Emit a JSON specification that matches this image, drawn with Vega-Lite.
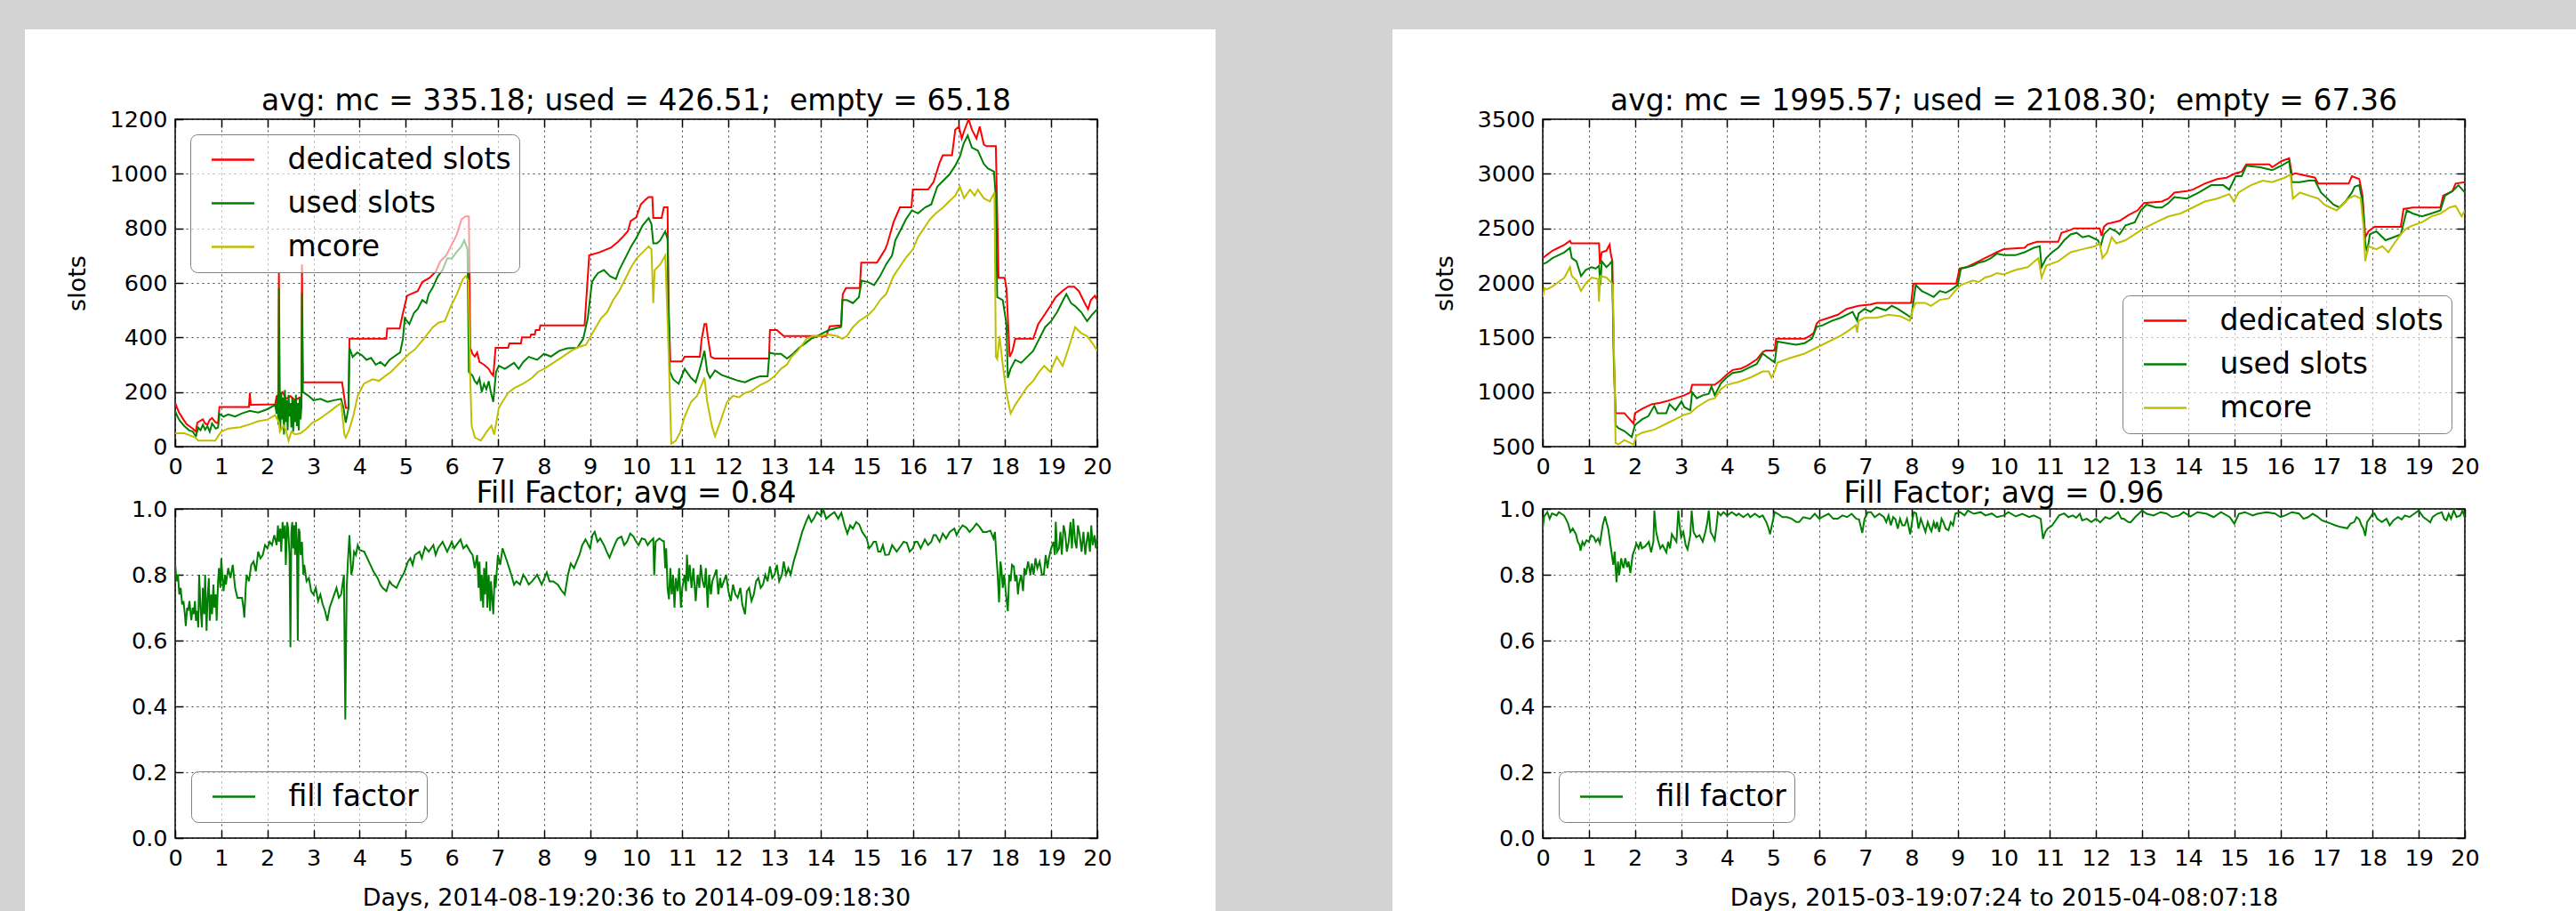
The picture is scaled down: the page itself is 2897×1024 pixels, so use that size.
{
"$schema": "https://vega.github.io/schema/vega-lite/v6.json",
"padding": 0,
"autosize": {"type": "pad"},
"background": "white",
"config": {
 "font": "DejaVu Sans",
 "view": {"stroke": null},
 "axis": {"domain": false, "grid": true, "gridColor": "black", "gridDash": [2, 4], "gridWidth": 1, "gridOpacity": 0.75, "tickColor": "black", "tickSize": -9, "tickWidth": 1.5, "labelFont": "DejaVu Sans", "labelFontSize": 25.5, "labelColor": "black", "titleFont": "DejaVu Sans", "titleFontSize": 27, "titleFontWeight": "normal", "titleColor": "black", "labelOverlap": false},
 "axisX": {"labelPadding": 19, "labelFlush": false, "titlePadding": 19},
 "axisY": {"labelPadding": 18, "titlePadding": 22},
 "title": {"font": "DejaVu Sans", "fontSize": 33, "fontWeight": "normal", "color": "black", "offset": -9, "anchor": "middle"},
 "legend": {"title": null, "symbolType": "stroke", "symbolSize": 2304, "symbolStrokeWidth": 2.5, "labelFontSize": 33, "labelFont": "DejaVu Sans", "labelColor": "black", "clipHeight": 40, "rowPadding": 9, "padding": 8.5, "symbolOffset": 14, "labelOffset": 36, "fillColor": "rgba(255,255,255,0.6)", "strokeColor": "#808080", "cornerRadius": 8, "labelLimit": 0}
},
"datasets": {
 "lr": [{"d":0,"v":160},{"d":0.08,"v":126},{"d":0.18,"v":99},{"d":0.25,"v":82},{"d":0.38,"v":66},{"d":0.45,"v":55},{"d":0.48,"v":88},{"d":0.55,"v":95},{"d":0.6,"v":100},{"d":0.65,"v":85},{"d":0.7,"v":80},{"d":0.75,"v":98},{"d":0.8,"v":105},{"d":0.87,"v":90},{"d":0.93,"v":85},{"d":0.96,"v":145},{"d":1.6,"v":145},{"d":1.62,"v":197},{"d":1.64,"v":153},{"d":2.17,"v":155},{"d":2.2,"v":185},{"d":2.24,"v":190},{"d":2.25,"v":636},{"d":2.27,"v":190},{"d":2.33,"v":200},{"d":2.4,"v":175},{"d":2.5,"v":185},{"d":2.6,"v":170},{"d":2.7,"v":180},{"d":2.74,"v":180},{"d":2.75,"v":668},{"d":2.77,"v":236},{"d":3.62,"v":236},{"d":3.66,"v":190},{"d":3.7,"v":142},{"d":3.76,"v":142},{"d":3.78,"v":395},{"d":4.58,"v":395},{"d":4.6,"v":433},{"d":4.87,"v":433},{"d":4.93,"v":482},{"d":5.03,"v":553},{"d":5.26,"v":570},{"d":5.36,"v":603},{"d":5.52,"v":619},{"d":5.65,"v":641},{"d":5.75,"v":679},{"d":5.88,"v":701},{"d":5.98,"v":734},{"d":6.11,"v":778},{"d":6.21,"v":833},{"d":6.3,"v":844},{"d":6.37,"v":844},{"d":6.4,"v":362},{"d":6.45,"v":340},{"d":6.5,"v":330},{"d":6.55,"v":345},{"d":6.6,"v":310},{"d":6.7,"v":300},{"d":6.8,"v":285},{"d":6.85,"v":270},{"d":6.9,"v":260},{"d":6.95,"v":362},{"d":7.22,"v":362},{"d":7.25,"v":378},{"d":7.5,"v":378},{"d":7.52,"v":400},{"d":7.7,"v":400},{"d":7.72,"v":411},{"d":7.8,"v":411},{"d":7.82,"v":427},{"d":7.9,"v":427},{"d":7.92,"v":444},{"d":8.88,"v":444},{"d":8.98,"v":701},{"d":9.2,"v":712},{"d":9.45,"v":729},{"d":9.6,"v":750},{"d":9.7,"v":767},{"d":9.82,"v":790},{"d":9.88,"v":827},{"d":10.0,"v":840},{"d":10.1,"v":888},{"d":10.2,"v":905},{"d":10.27,"v":915},{"d":10.35,"v":915},{"d":10.37,"v":838},{"d":10.55,"v":838},{"d":10.6,"v":877},{"d":10.68,"v":877},{"d":10.7,"v":526},{"d":10.74,"v":312},{"d":10.99,"v":312},{"d":11.05,"v":329},{"d":11.38,"v":329},{"d":11.42,"v":395},{"d":11.48,"v":449},{"d":11.52,"v":449},{"d":11.55,"v":405},{"d":11.62,"v":329},{"d":11.7,"v":323},{"d":12.88,"v":323},{"d":12.9,"v":427},{"d":13.05,"v":427},{"d":13.2,"v":405},{"d":14.12,"v":405},{"d":14.2,"v":441},{"d":14.45,"v":444},{"d":14.48,"v":559},{"d":14.55,"v":581},{"d":14.85,"v":581},{"d":14.88,"v":674},{"d":15.22,"v":674},{"d":15.28,"v":690},{"d":15.4,"v":723},{"d":15.45,"v":745},{"d":15.58,"v":822},{"d":15.72,"v":877},{"d":15.97,"v":877},{"d":16.0,"v":942},{"d":16.33,"v":942},{"d":16.45,"v":970},{"d":16.58,"v":1041},{"d":16.65,"v":1068},{"d":16.85,"v":1068},{"d":16.92,"v":1162},{"d":17.0,"v":1173},{"d":17.06,"v":1129},{"d":17.12,"v":1160},{"d":17.21,"v":1200},{"d":17.28,"v":1162},{"d":17.38,"v":1129},{"d":17.45,"v":1173},{"d":17.54,"v":1107},{"d":17.6,"v":1101},{"d":17.8,"v":1101},{"d":17.83,"v":850},{"d":17.86,"v":619},{"d":17.99,"v":619},{"d":18.03,"v":581},{"d":18.1,"v":329},{"d":18.16,"v":350},{"d":18.22,"v":395},{"d":18.61,"v":395},{"d":18.72,"v":449},{"d":18.85,"v":482},{"d":18.98,"v":515},{"d":19.1,"v":548},{"d":19.24,"v":570},{"d":19.37,"v":586},{"d":19.5,"v":586},{"d":19.6,"v":570},{"d":19.73,"v":526},{"d":19.8,"v":504},{"d":19.86,"v":537},{"d":19.95,"v":553},{"d":20,"v":537}],
 "lg": [{"d":0,"v":131},{"d":0.05,"v":110},{"d":0.1,"v":95},{"d":0.2,"v":75},{"d":0.3,"v":60},{"d":0.38,"v":55},{"d":0.45,"v":38},{"d":0.5,"v":70},{"d":0.55,"v":60},{"d":0.6,"v":80},{"d":0.65,"v":62},{"d":0.7,"v":75},{"d":0.75,"v":55},{"d":0.8,"v":85},{"d":0.88,"v":66},{"d":0.93,"v":70},{"d":0.96,"v":120},{"d":1.05,"v":110},{"d":1.15,"v":118},{"d":1.3,"v":110},{"d":1.45,"v":122},{"d":1.62,"v":131},{"d":1.8,"v":125},{"d":2.0,"v":137},{"d":2.17,"v":153},{"d":2.2,"v":120},{"d":2.22,"v":190},{"d":2.24,"v":80},{"d":2.25,"v":581},{"d":2.26,"v":150},{"d":2.28,"v":60},{"d":2.3,"v":200},{"d":2.32,"v":100},{"d":2.34,"v":180},{"d":2.36,"v":44},{"d":2.38,"v":208},{"d":2.4,"v":90},{"d":2.42,"v":170},{"d":2.44,"v":60},{"d":2.46,"v":190},{"d":2.48,"v":110},{"d":2.5,"v":160},{"d":2.52,"v":70},{"d":2.54,"v":180},{"d":2.56,"v":55},{"d":2.58,"v":170},{"d":2.6,"v":90},{"d":2.62,"v":190},{"d":2.64,"v":75},{"d":2.66,"v":160},{"d":2.68,"v":60},{"d":2.7,"v":180},{"d":2.72,"v":100},{"d":2.74,"v":150},{"d":2.75,"v":564},{"d":2.77,"v":200},{"d":2.8,"v":197},{"d":2.9,"v":185},{"d":3.0,"v":170},{"d":3.15,"v":175},{"d":3.3,"v":164},{"d":3.45,"v":170},{"d":3.6,"v":175},{"d":3.65,"v":142},{"d":3.7,"v":88},{"d":3.76,"v":142},{"d":3.78,"v":362},{"d":3.85,"v":329},{"d":3.95,"v":345},{"d":4.05,"v":335},{"d":4.15,"v":318},{"d":4.25,"v":325},{"d":4.35,"v":300},{"d":4.45,"v":310},{"d":4.55,"v":296},{"d":4.65,"v":318},{"d":4.75,"v":330},{"d":4.88,"v":345},{"d":4.94,"v":395},{"d":4.98,"v":471},{"d":5.08,"v":449},{"d":5.18,"v":490},{"d":5.26,"v":504},{"d":5.36,"v":537},{"d":5.45,"v":526},{"d":5.5,"v":559},{"d":5.58,"v":581},{"d":5.7,"v":625},{"d":5.8,"v":647},{"d":5.9,"v":690},{"d":6.0,"v":690},{"d":6.1,"v":712},{"d":6.21,"v":734},{"d":6.27,"v":756},{"d":6.34,"v":723},{"d":6.37,"v":274},{"d":6.45,"v":260},{"d":6.5,"v":240},{"d":6.55,"v":230},{"d":6.6,"v":250},{"d":6.65,"v":200},{"d":6.7,"v":230},{"d":6.75,"v":210},{"d":6.8,"v":240},{"d":6.85,"v":197},{"d":6.9,"v":164},{"d":6.93,"v":220},{"d":6.96,"v":274},{"d":7.02,"v":296},{"d":7.15,"v":285},{"d":7.35,"v":307},{"d":7.45,"v":285},{"d":7.55,"v":310},{"d":7.67,"v":329},{"d":7.85,"v":318},{"d":8.0,"v":340},{"d":8.15,"v":330},{"d":8.33,"v":351},{"d":8.5,"v":360},{"d":8.72,"v":362},{"d":8.85,"v":395},{"d":8.95,"v":471},{"d":9.04,"v":603},{"d":9.1,"v":620},{"d":9.17,"v":636},{"d":9.3,"v":647},{"d":9.43,"v":625},{"d":9.56,"v":614},{"d":9.63,"v":647},{"d":9.76,"v":690},{"d":9.89,"v":734},{"d":10.01,"v":767},{"d":10.14,"v":811},{"d":10.27,"v":838},{"d":10.33,"v":816},{"d":10.37,"v":745},{"d":10.45,"v":745},{"d":10.52,"v":756},{"d":10.63,"v":789},{"d":10.68,"v":760},{"d":10.7,"v":515},{"d":10.73,"v":274},{"d":10.8,"v":247},{"d":10.92,"v":230},{"d":11.05,"v":285},{"d":11.19,"v":252},{"d":11.29,"v":236},{"d":11.38,"v":285},{"d":11.48,"v":351},{"d":11.54,"v":274},{"d":11.6,"v":252},{"d":11.71,"v":279},{"d":11.85,"v":263},{"d":12.03,"v":252},{"d":12.22,"v":241},{"d":12.36,"v":236},{"d":12.5,"v":247},{"d":12.68,"v":258},{"d":12.85,"v":258},{"d":12.89,"v":345},{"d":13.0,"v":340},{"d":13.14,"v":340},{"d":13.27,"v":323},{"d":13.4,"v":340},{"d":13.53,"v":362},{"d":13.66,"v":378},{"d":13.79,"v":395},{"d":13.92,"v":405},{"d":14.05,"v":416},{"d":14.18,"v":427},{"d":14.31,"v":433},{"d":14.44,"v":438},{"d":14.47,"v":537},{"d":14.57,"v":537},{"d":14.7,"v":526},{"d":14.83,"v":548},{"d":14.89,"v":608},{"d":15.03,"v":603},{"d":15.16,"v":592},{"d":15.29,"v":625},{"d":15.42,"v":668},{"d":15.55,"v":701},{"d":15.62,"v":756},{"d":15.72,"v":789},{"d":15.85,"v":833},{"d":15.98,"v":866},{"d":16.11,"v":855},{"d":16.27,"v":877},{"d":16.4,"v":888},{"d":16.53,"v":953},{"d":16.66,"v":975},{"d":16.79,"v":997},{"d":16.92,"v":1030},{"d":17.02,"v":1063},{"d":17.1,"v":1110},{"d":17.19,"v":1140},{"d":17.28,"v":1096},{"d":17.41,"v":1085},{"d":17.54,"v":1036},{"d":17.63,"v":1019},{"d":17.76,"v":1008},{"d":17.8,"v":910},{"d":17.83,"v":548},{"d":17.95,"v":537},{"d":18.03,"v":449},{"d":18.06,"v":252},{"d":18.12,"v":285},{"d":18.22,"v":318},{"d":18.35,"v":307},{"d":18.48,"v":329},{"d":18.61,"v":351},{"d":18.74,"v":395},{"d":18.87,"v":438},{"d":19.0,"v":460},{"d":19.13,"v":493},{"d":19.26,"v":537},{"d":19.33,"v":559},{"d":19.43,"v":526},{"d":19.52,"v":515},{"d":19.65,"v":493},{"d":19.78,"v":460},{"d":19.88,"v":482},{"d":20,"v":504}],
 "ly": [{"d":0,"v":49},{"d":0.2,"v":49},{"d":0.44,"v":33},{"d":0.5,"v":22},{"d":0.87,"v":22},{"d":0.93,"v":38},{"d":1.0,"v":55},{"d":1.15,"v":66},{"d":1.41,"v":71},{"d":1.62,"v":82},{"d":1.8,"v":93},{"d":2.0,"v":99},{"d":2.17,"v":115},{"d":2.25,"v":90},{"d":2.27,"v":55},{"d":2.35,"v":77},{"d":2.4,"v":60},{"d":2.46,"v":22},{"d":2.52,"v":55},{"d":2.6,"v":45},{"d":2.72,"v":49},{"d":2.85,"v":66},{"d":2.98,"v":88},{"d":3.11,"v":99},{"d":3.24,"v":115},{"d":3.37,"v":131},{"d":3.5,"v":148},{"d":3.6,"v":159},{"d":3.67,"v":44},{"d":3.7,"v":33},{"d":3.77,"v":60},{"d":3.86,"v":110},{"d":3.96,"v":186},{"d":4.09,"v":230},{"d":4.28,"v":247},{"d":4.42,"v":241},{"d":4.55,"v":258},{"d":4.68,"v":274},{"d":4.81,"v":296},{"d":4.94,"v":318},{"d":5.07,"v":340},{"d":5.2,"v":356},{"d":5.39,"v":395},{"d":5.59,"v":438},{"d":5.72,"v":455},{"d":5.85,"v":460},{"d":5.98,"v":515},{"d":6.11,"v":559},{"d":6.24,"v":614},{"d":6.3,"v":625},{"d":6.36,"v":608},{"d":6.4,"v":252},{"d":6.43,"v":77},{"d":6.5,"v":33},{"d":6.63,"v":22},{"d":6.76,"v":55},{"d":6.86,"v":77},{"d":6.92,"v":44},{"d":7.02,"v":142},{"d":7.22,"v":197},{"d":7.35,"v":214},{"d":7.54,"v":230},{"d":7.74,"v":252},{"d":7.87,"v":274},{"d":8.0,"v":285},{"d":8.2,"v":307},{"d":8.4,"v":329},{"d":8.59,"v":351},{"d":8.78,"v":367},{"d":8.91,"v":373},{"d":8.98,"v":395},{"d":9.11,"v":433},{"d":9.24,"v":471},{"d":9.37,"v":493},{"d":9.5,"v":537},{"d":9.63,"v":570},{"d":9.76,"v":614},{"d":9.89,"v":658},{"d":10.01,"v":690},{"d":10.14,"v":712},{"d":10.27,"v":734},{"d":10.33,"v":723},{"d":10.37,"v":526},{"d":10.4,"v":647},{"d":10.52,"v":668},{"d":10.63,"v":701},{"d":10.7,"v":362},{"d":10.76,"v":11},{"d":10.86,"v":22},{"d":10.96,"v":55},{"d":11.05,"v":110},{"d":11.19,"v":164},{"d":11.32,"v":186},{"d":11.48,"v":252},{"d":11.54,"v":164},{"d":11.64,"v":77},{"d":11.71,"v":38},{"d":11.84,"v":99},{"d":11.97,"v":164},{"d":12.1,"v":186},{"d":12.23,"v":181},{"d":12.36,"v":197},{"d":12.49,"v":203},{"d":12.68,"v":225},{"d":12.87,"v":241},{"d":13.0,"v":258},{"d":13.14,"v":285},{"d":13.27,"v":301},{"d":13.37,"v":329},{"d":13.5,"v":351},{"d":13.7,"v":395},{"d":13.83,"v":405},{"d":13.96,"v":405},{"d":14.16,"v":411},{"d":14.36,"v":405},{"d":14.47,"v":395},{"d":14.57,"v":405},{"d":14.7,"v":438},{"d":14.83,"v":460},{"d":15.03,"v":482},{"d":15.16,"v":504},{"d":15.29,"v":537},{"d":15.42,"v":559},{"d":15.58,"v":625},{"d":15.71,"v":658},{"d":15.84,"v":690},{"d":16.0,"v":723},{"d":16.11,"v":767},{"d":16.24,"v":800},{"d":16.37,"v":833},{"d":16.5,"v":855},{"d":16.66,"v":877},{"d":16.79,"v":899},{"d":16.92,"v":920},{"d":17.02,"v":953},{"d":17.11,"v":910},{"d":17.24,"v":942},{"d":17.34,"v":920},{"d":17.41,"v":942},{"d":17.54,"v":910},{"d":17.67,"v":899},{"d":17.77,"v":932},{"d":17.8,"v":329},{"d":17.83,"v":320},{"d":17.88,"v":405},{"d":17.95,"v":300},{"d":18.03,"v":197},{"d":18.12,"v":121},{"d":18.22,"v":153},{"d":18.35,"v":186},{"d":18.48,"v":219},{"d":18.61,"v":241},{"d":18.74,"v":274},{"d":18.85,"v":296},{"d":18.98,"v":274},{"d":19.12,"v":329},{"d":19.25,"v":296},{"d":19.38,"v":362},{"d":19.52,"v":438},{"d":19.65,"v":416},{"d":19.78,"v":405},{"d":19.92,"v":373},{"d":20,"v":351}],
 "lf": [{"d":0,"v":0.834},{"d":0.03,"v":0.78},{"d":0.06,"v":0.8},{"d":0.09,"v":0.74},{"d":0.12,"v":0.76},{"d":0.15,"v":0.71},{"d":0.18,"v":0.72},{"d":0.21,"v":0.68},{"d":0.23,"v":0.644},{"d":0.26,"v":0.7},{"d":0.28,"v":0.69},{"d":0.31,"v":0.72},{"d":0.35,"v":0.662},{"d":0.38,"v":0.7},{"d":0.4,"v":0.68},{"d":0.43,"v":0.72},{"d":0.45,"v":0.66},{"d":0.48,"v":0.69},{"d":0.5,"v":0.64},{"d":0.52,"v":0.8},{"d":0.55,"v":0.7},{"d":0.58,"v":0.64},{"d":0.6,"v":0.76},{"d":0.63,"v":0.68},{"d":0.65,"v":0.8},{"d":0.68,"v":0.63},{"d":0.7,"v":0.72},{"d":0.73,"v":0.79},{"d":0.75,"v":0.66},{"d":0.78,"v":0.74},{"d":0.8,"v":0.68},{"d":0.83,"v":0.77},{"d":0.85,"v":0.7},{"d":0.88,"v":0.74},{"d":0.9,"v":0.66},{"d":0.93,"v":0.78},{"d":0.95,"v":0.82},{"d":0.98,"v":0.76},{"d":1.0,"v":0.85},{"d":1.03,"v":0.78},{"d":1.05,"v":0.75},{"d":1.08,"v":0.8},{"d":1.1,"v":0.77},{"d":1.15,"v":0.82},{"d":1.2,"v":0.79},{"d":1.25,"v":0.83},{"d":1.3,"v":0.76},{"d":1.35,"v":0.73},{"d":1.45,"v":0.73},{"d":1.48,"v":0.7},{"d":1.5,"v":0.67},{"d":1.53,"v":0.76},{"d":1.55,"v":0.8},{"d":1.6,"v":0.78},{"d":1.65,"v":0.83},{"d":1.7,"v":0.84},{"d":1.75,"v":0.81},{"d":1.8,"v":0.87},{"d":1.85,"v":0.85},{"d":1.9,"v":0.86},{"d":1.95,"v":0.89},{"d":2.0,"v":0.88},{"d":2.05,"v":0.9},{"d":2.1,"v":0.89},{"d":2.15,"v":0.92},{"d":2.2,"v":0.89},{"d":2.23,"v":0.95},{"d":2.25,"v":0.9},{"d":2.28,"v":0.94},{"d":2.3,"v":0.87},{"d":2.33,"v":0.96},{"d":2.35,"v":0.91},{"d":2.38,"v":0.95},{"d":2.4,"v":0.83},{"d":2.43,"v":0.96},{"d":2.45,"v":0.94},{"d":2.48,"v":0.86},{"d":2.5,"v":0.58},{"d":2.52,"v":0.93},{"d":2.54,"v":0.96},{"d":2.56,"v":0.88},{"d":2.58,"v":0.95},{"d":2.6,"v":0.86},{"d":2.62,"v":0.96},{"d":2.64,"v":0.9},{"d":2.66,"v":0.6},{"d":2.68,"v":0.94},{"d":2.7,"v":0.93},{"d":2.72,"v":0.86},{"d":2.75,"v":0.9},{"d":2.78,"v":0.8},{"d":2.8,"v":0.83},{"d":2.85,"v":0.78},{"d":2.9,"v":0.79},{"d":2.95,"v":0.75},{"d":3.0,"v":0.74},{"d":3.05,"v":0.76},{"d":3.1,"v":0.72},{"d":3.15,"v":0.74},{"d":3.2,"v":0.71},{"d":3.25,"v":0.69},{"d":3.3,"v":0.66},{"d":3.35,"v":0.7},{"d":3.4,"v":0.72},{"d":3.45,"v":0.74},{"d":3.5,"v":0.76},{"d":3.55,"v":0.73},{"d":3.6,"v":0.74},{"d":3.66,"v":0.8},{"d":3.69,"v":0.36},{"d":3.72,"v":0.76},{"d":3.75,"v":0.85},{"d":3.78,"v":0.92},{"d":3.82,"v":0.8},{"d":3.85,"v":0.82},{"d":3.88,"v":0.87},{"d":3.92,"v":0.86},{"d":3.96,"v":0.89},{"d":4.0,"v":0.875},{"d":4.1,"v":0.87},{"d":4.2,"v":0.84},{"d":4.3,"v":0.81},{"d":4.39,"v":0.79},{"d":4.45,"v":0.77},{"d":4.5,"v":0.76},{"d":4.58,"v":0.75},{"d":4.65,"v":0.78},{"d":4.7,"v":0.77},{"d":4.8,"v":0.76},{"d":4.9,"v":0.79},{"d":4.97,"v":0.807},{"d":5.05,"v":0.84},{"d":5.1,"v":0.85},{"d":5.15,"v":0.83},{"d":5.2,"v":0.86},{"d":5.3,"v":0.87},{"d":5.35,"v":0.85},{"d":5.42,"v":0.884},{"d":5.5,"v":0.87},{"d":5.6,"v":0.89},{"d":5.65,"v":0.86},{"d":5.7,"v":0.88},{"d":5.8,"v":0.9},{"d":5.9,"v":0.87},{"d":6.0,"v":0.9},{"d":6.05,"v":0.88},{"d":6.1,"v":0.89},{"d":6.19,"v":0.907},{"d":6.25,"v":0.88},{"d":6.32,"v":0.89},{"d":6.4,"v":0.87},{"d":6.45,"v":0.86},{"d":6.5,"v":0.82},{"d":6.55,"v":0.86},{"d":6.58,"v":0.76},{"d":6.6,"v":0.84},{"d":6.63,"v":0.72},{"d":6.65,"v":0.8},{"d":6.68,"v":0.7},{"d":6.7,"v":0.82},{"d":6.72,"v":0.74},{"d":6.75,"v":0.84},{"d":6.77,"v":0.7},{"d":6.8,"v":0.8},{"d":6.83,"v":0.69},{"d":6.85,"v":0.78},{"d":6.88,"v":0.72},{"d":6.9,"v":0.68},{"d":6.93,"v":0.8},{"d":6.95,"v":0.76},{"d":7.0,"v":0.86},{"d":7.05,"v":0.83},{"d":7.1,"v":0.88},{"d":7.2,"v":0.84},{"d":7.29,"v":0.8},{"d":7.35,"v":0.77},{"d":7.4,"v":0.78},{"d":7.48,"v":0.77},{"d":7.55,"v":0.8},{"d":7.6,"v":0.79},{"d":7.67,"v":0.77},{"d":7.74,"v":0.78},{"d":7.8,"v":0.79},{"d":7.85,"v":0.8},{"d":7.95,"v":0.77},{"d":8.06,"v":0.807},{"d":8.12,"v":0.78},{"d":8.2,"v":0.78},{"d":8.3,"v":0.77},{"d":8.39,"v":0.75},{"d":8.45,"v":0.74},{"d":8.52,"v":0.8},{"d":8.58,"v":0.834},{"d":8.65,"v":0.82},{"d":8.77,"v":0.861},{"d":8.83,"v":0.89},{"d":8.9,"v":0.907},{"d":9.0,"v":0.88},{"d":9.05,"v":0.92},{"d":9.1,"v":0.93},{"d":9.16,"v":0.9},{"d":9.22,"v":0.91},{"d":9.3,"v":0.89},{"d":9.36,"v":0.87},{"d":9.42,"v":0.852},{"d":9.5,"v":0.88},{"d":9.56,"v":0.9},{"d":9.6,"v":0.91},{"d":9.68,"v":0.916},{"d":9.74,"v":0.89},{"d":9.8,"v":0.9},{"d":9.87,"v":0.925},{"d":9.94,"v":0.916},{"d":10.0,"v":0.9},{"d":10.05,"v":0.89},{"d":10.12,"v":0.91},{"d":10.19,"v":0.907},{"d":10.25,"v":0.89},{"d":10.3,"v":0.9},{"d":10.37,"v":0.91},{"d":10.39,"v":0.798},{"d":10.42,"v":0.9},{"d":10.5,"v":0.91},{"d":10.58,"v":0.902},{"d":10.6,"v":0.902},{"d":10.63,"v":0.82},{"d":10.65,"v":0.88},{"d":10.68,"v":0.76},{"d":10.71,"v":0.725},{"d":10.74,"v":0.82},{"d":10.77,"v":0.74},{"d":10.8,"v":0.8},{"d":10.83,"v":0.7},{"d":10.86,"v":0.79},{"d":10.9,"v":0.75},{"d":10.93,"v":0.82},{"d":10.97,"v":0.7},{"d":11.0,"v":0.76},{"d":11.05,"v":0.8},{"d":11.08,"v":0.75},{"d":11.1,"v":0.861},{"d":11.13,"v":0.78},{"d":11.16,"v":0.83},{"d":11.2,"v":0.76},{"d":11.24,"v":0.82},{"d":11.29,"v":0.72},{"d":11.33,"v":0.8},{"d":11.37,"v":0.76},{"d":11.4,"v":0.83},{"d":11.44,"v":0.78},{"d":11.48,"v":0.76},{"d":11.51,"v":0.82},{"d":11.55,"v":0.7},{"d":11.58,"v":0.8},{"d":11.62,"v":0.74},{"d":11.65,"v":0.78},{"d":11.7,"v":0.8},{"d":11.74,"v":0.816},{"d":11.78,"v":0.74},{"d":11.82,"v":0.79},{"d":11.85,"v":0.76},{"d":11.9,"v":0.78},{"d":11.95,"v":0.8},{"d":12.0,"v":0.75},{"d":12.05,"v":0.72},{"d":12.1,"v":0.77},{"d":12.15,"v":0.74},{"d":12.2,"v":0.73},{"d":12.26,"v":0.76},{"d":12.3,"v":0.71},{"d":12.36,"v":0.68},{"d":12.4,"v":0.75},{"d":12.45,"v":0.76},{"d":12.5,"v":0.72},{"d":12.55,"v":0.74},{"d":12.6,"v":0.78},{"d":12.65,"v":0.79},{"d":12.7,"v":0.76},{"d":12.75,"v":0.77},{"d":12.8,"v":0.8},{"d":12.85,"v":0.78},{"d":12.9,"v":0.825},{"d":12.95,"v":0.79},{"d":13.0,"v":0.8},{"d":13.05,"v":0.83},{"d":13.1,"v":0.78},{"d":13.16,"v":0.8},{"d":13.2,"v":0.84},{"d":13.25,"v":0.8},{"d":13.3,"v":0.82},{"d":13.35,"v":0.8},{"d":13.42,"v":0.843},{"d":13.5,"v":0.88},{"d":13.6,"v":0.93},{"d":13.68,"v":0.96},{"d":13.74,"v":0.979},{"d":13.8,"v":0.96},{"d":13.85,"v":0.97},{"d":13.92,"v":0.99},{"d":14.0,"v":0.98},{"d":14.06,"v":0.997},{"d":14.12,"v":0.97},{"d":14.2,"v":0.98},{"d":14.3,"v":0.99},{"d":14.38,"v":0.97},{"d":14.45,"v":0.988},{"d":14.52,"v":0.95},{"d":14.58,"v":0.925},{"d":14.64,"v":0.95},{"d":14.7,"v":0.94},{"d":14.77,"v":0.96},{"d":14.84,"v":0.952},{"d":14.9,"v":0.93},{"d":14.95,"v":0.92},{"d":15.0,"v":0.91},{"d":15.05,"v":0.88},{"d":15.1,"v":0.888},{"d":15.15,"v":0.9},{"d":15.2,"v":0.9},{"d":15.25,"v":0.87},{"d":15.3,"v":0.87},{"d":15.35,"v":0.89},{"d":15.4,"v":0.86},{"d":15.48,"v":0.861},{"d":15.55,"v":0.89},{"d":15.6,"v":0.88},{"d":15.65,"v":0.87},{"d":15.75,"v":0.89},{"d":15.8,"v":0.9},{"d":15.87,"v":0.897},{"d":15.93,"v":0.87},{"d":16.0,"v":0.88},{"d":16.05,"v":0.9},{"d":16.1,"v":0.9},{"d":16.17,"v":0.88},{"d":16.26,"v":0.907},{"d":16.33,"v":0.89},{"d":16.4,"v":0.9},{"d":16.45,"v":0.92},{"d":16.5,"v":0.92},{"d":16.58,"v":0.9},{"d":16.65,"v":0.925},{"d":16.72,"v":0.91},{"d":16.8,"v":0.93},{"d":16.9,"v":0.94},{"d":16.95,"v":0.92},{"d":17.0,"v":0.935},{"d":17.08,"v":0.95},{"d":17.16,"v":0.943},{"d":17.23,"v":0.93},{"d":17.3,"v":0.94},{"d":17.38,"v":0.955},{"d":17.45,"v":0.945},{"d":17.52,"v":0.93},{"d":17.6,"v":0.93},{"d":17.68,"v":0.934},{"d":17.75,"v":0.91},{"d":17.78,"v":0.93},{"d":17.81,"v":0.861},{"d":17.84,"v":0.8},{"d":17.87,"v":0.716},{"d":17.9,"v":0.84},{"d":17.92,"v":0.82},{"d":17.95,"v":0.76},{"d":17.98,"v":0.8},{"d":18.02,"v":0.74},{"d":18.06,"v":0.689},{"d":18.09,"v":0.8},{"d":18.12,"v":0.78},{"d":18.15,"v":0.83},{"d":18.19,"v":0.825},{"d":18.22,"v":0.78},{"d":18.25,"v":0.8},{"d":18.28,"v":0.74},{"d":18.3,"v":0.77},{"d":18.35,"v":0.8},{"d":18.39,"v":0.75},{"d":18.42,"v":0.82},{"d":18.45,"v":0.8},{"d":18.5,"v":0.84},{"d":18.55,"v":0.8},{"d":18.58,"v":0.834},{"d":18.62,"v":0.8},{"d":18.66,"v":0.85},{"d":18.7,"v":0.82},{"d":18.75,"v":0.84},{"d":18.8,"v":0.8},{"d":18.84,"v":0.8},{"d":18.88,"v":0.86},{"d":18.92,"v":0.82},{"d":18.95,"v":0.85},{"d":19.0,"v":0.88},{"d":19.05,"v":0.9},{"d":19.08,"v":0.86},{"d":19.1,"v":0.961},{"d":19.13,"v":0.87},{"d":19.17,"v":0.88},{"d":19.2,"v":0.93},{"d":19.23,"v":0.861},{"d":19.27,"v":0.95},{"d":19.3,"v":0.93},{"d":19.34,"v":0.87},{"d":19.38,"v":0.9},{"d":19.42,"v":0.96},{"d":19.45,"v":0.88},{"d":19.48,"v":0.97},{"d":19.52,"v":0.9},{"d":19.55,"v":0.88},{"d":19.58,"v":0.95},{"d":19.62,"v":0.92},{"d":19.66,"v":0.87},{"d":19.7,"v":0.93},{"d":19.74,"v":0.861},{"d":19.77,"v":0.9},{"d":19.8,"v":0.93},{"d":19.84,"v":0.87},{"d":19.87,"v":0.95},{"d":19.9,"v":0.89},{"d":19.94,"v":0.92},{"d":19.97,"v":0.88},{"d":20,"v":0.916}],
 "rr": [{"d":0,"v":2227},{"d":0.08,"v":2254},{"d":0.21,"v":2295},{"d":0.34,"v":2322},{"d":0.47,"v":2350},{"d":0.59,"v":2385},{"d":0.62,"v":2363},{"d":1.22,"v":2363},{"d":1.24,"v":2172},{"d":1.28,"v":2281},{"d":1.38,"v":2295},{"d":1.45,"v":2350},{"d":1.48,"v":2254},{"d":1.51,"v":2199},{"d":1.54,"v":1298},{"d":1.58,"v":806},{"d":1.77,"v":806},{"d":1.97,"v":710},{"d":2.0,"v":806},{"d":2.16,"v":847},{"d":2.36,"v":888},{"d":2.55,"v":902},{"d":2.68,"v":915},{"d":2.88,"v":943},{"d":3.07,"v":970},{"d":3.2,"v":997},{"d":3.24,"v":1066},{"d":3.73,"v":1066},{"d":3.86,"v":1107},{"d":3.99,"v":1161},{"d":4.12,"v":1202},{"d":4.3,"v":1216},{"d":4.44,"v":1243},{"d":4.64,"v":1298},{"d":4.77,"v":1366},{"d":4.83,"v":1380},{"d":5.03,"v":1380},{"d":5.06,"v":1489},{"d":5.68,"v":1489},{"d":5.8,"v":1516},{"d":5.88,"v":1544},{"d":5.94,"v":1626},{"d":6.0,"v":1653},{"d":6.2,"v":1680},{"d":6.4,"v":1708},{"d":6.59,"v":1762},{"d":6.72,"v":1776},{"d":6.85,"v":1790},{"d":7.11,"v":1803},{"d":7.24,"v":1817},{"d":7.99,"v":1817},{"d":8.04,"v":1994},{"d":8.97,"v":1994},{"d":9.04,"v":2131},{"d":9.2,"v":2145},{"d":9.33,"v":2172},{"d":9.46,"v":2199},{"d":9.59,"v":2227},{"d":9.72,"v":2254},{"d":9.85,"v":2281},{"d":10.0,"v":2309},{"d":10.45,"v":2322},{"d":10.52,"v":2350},{"d":10.72,"v":2377},{"d":11.18,"v":2377},{"d":11.25,"v":2459},{"d":11.45,"v":2486},{"d":11.52,"v":2500},{"d":12.08,"v":2500},{"d":12.12,"v":2431},{"d":12.17,"v":2514},{"d":12.24,"v":2541},{"d":12.51,"v":2568},{"d":12.71,"v":2622},{"d":12.9,"v":2664},{"d":13.04,"v":2732},{"d":13.43,"v":2746},{"d":13.57,"v":2773},{"d":13.7,"v":2828},{"d":13.97,"v":2841},{"d":14.1,"v":2855},{"d":14.36,"v":2910},{"d":14.63,"v":2951},{"d":14.83,"v":2964},{"d":15.03,"v":3005},{"d":15.16,"v":3019},{"d":15.26,"v":3087},{"d":15.76,"v":3087},{"d":15.82,"v":3060},{"d":16.02,"v":3115},{"d":16.19,"v":3142},{"d":16.25,"v":2992},{"d":16.32,"v":3005},{"d":16.75,"v":2964},{"d":16.82,"v":2910},{"d":17.48,"v":2910},{"d":17.55,"v":2978},{"d":17.71,"v":2951},{"d":17.78,"v":2800},{"d":17.84,"v":2418},{"d":17.91,"v":2473},{"d":18.04,"v":2514},{"d":18.61,"v":2514},{"d":18.67,"v":2677},{"d":18.87,"v":2691},{"d":19.47,"v":2691},{"d":19.53,"v":2800},{"d":19.73,"v":2841},{"d":19.8,"v":2910},{"d":20,"v":2923}],
 "rg": [{"d":0,"v":2172},{"d":0.08,"v":2186},{"d":0.21,"v":2227},{"d":0.34,"v":2254},{"d":0.47,"v":2281},{"d":0.59,"v":2322},{"d":0.63,"v":2227},{"d":0.73,"v":2199},{"d":0.83,"v":2063},{"d":0.93,"v":2118},{"d":1.06,"v":2145},{"d":1.15,"v":2131},{"d":1.22,"v":2158},{"d":1.25,"v":1981},{"d":1.28,"v":2199},{"d":1.38,"v":2145},{"d":1.45,"v":2172},{"d":1.5,"v":2199},{"d":1.54,"v":1380},{"d":1.58,"v":697},{"d":1.64,"v":669},{"d":1.77,"v":642},{"d":1.93,"v":587},{"d":2.0,"v":697},{"d":2.16,"v":751},{"d":2.29,"v":779},{"d":2.42,"v":874},{"d":2.49,"v":806},{"d":2.68,"v":806},{"d":2.75,"v":888},{"d":2.88,"v":833},{"d":3.01,"v":915},{"d":3.07,"v":861},{"d":3.2,"v":833},{"d":3.24,"v":997},{"d":3.34,"v":943},{"d":3.47,"v":970},{"d":3.6,"v":984},{"d":3.66,"v":1052},{"d":3.73,"v":970},{"d":3.86,"v":1079},{"d":3.99,"v":1134},{"d":4.12,"v":1175},{"d":4.31,"v":1189},{"d":4.44,"v":1216},{"d":4.64,"v":1257},{"d":4.77,"v":1352},{"d":4.9,"v":1311},{"d":5.03,"v":1270},{"d":5.09,"v":1462},{"d":5.29,"v":1448},{"d":5.49,"v":1434},{"d":5.68,"v":1448},{"d":5.84,"v":1489},{"d":5.94,"v":1598},{"d":6.07,"v":1612},{"d":6.27,"v":1653},{"d":6.46,"v":1680},{"d":6.59,"v":1708},{"d":6.72,"v":1735},{"d":6.82,"v":1653},{"d":6.85,"v":1720},{"d":6.98,"v":1762},{"d":7.11,"v":1735},{"d":7.24,"v":1776},{"d":7.44,"v":1749},{"d":7.57,"v":1790},{"d":7.7,"v":1762},{"d":7.9,"v":1708},{"d":7.99,"v":1680},{"d":8.09,"v":1981},{"d":8.22,"v":1926},{"d":8.35,"v":1899},{"d":8.48,"v":1871},{"d":8.61,"v":1926},{"d":8.74,"v":1910},{"d":8.87,"v":1940},{"d":9.0,"v":1981},{"d":9.07,"v":2131},{"d":9.2,"v":2145},{"d":9.33,"v":2158},{"d":9.46,"v":2186},{"d":9.59,"v":2199},{"d":9.72,"v":2227},{"d":9.85,"v":2268},{"d":10.0,"v":2254},{"d":10.25,"v":2254},{"d":10.45,"v":2281},{"d":10.65,"v":2322},{"d":10.78,"v":2336},{"d":10.82,"v":2145},{"d":10.92,"v":2227},{"d":11.05,"v":2281},{"d":11.18,"v":2322},{"d":11.31,"v":2391},{"d":11.45,"v":2445},{"d":11.58,"v":2459},{"d":11.71,"v":2418},{"d":11.84,"v":2431},{"d":12.04,"v":2391},{"d":12.1,"v":2336},{"d":12.17,"v":2445},{"d":12.3,"v":2500},{"d":12.44,"v":2473},{"d":12.51,"v":2445},{"d":12.64,"v":2527},{"d":12.84,"v":2555},{"d":12.97,"v":2664},{"d":13.1,"v":2718},{"d":13.3,"v":2691},{"d":13.43,"v":2691},{"d":13.57,"v":2732},{"d":13.7,"v":2787},{"d":13.97,"v":2773},{"d":14.23,"v":2828},{"d":14.5,"v":2896},{"d":14.76,"v":2896},{"d":14.89,"v":2855},{"d":15.03,"v":2978},{"d":15.16,"v":2978},{"d":15.26,"v":3074},{"d":15.56,"v":3060},{"d":15.82,"v":3033},{"d":16.02,"v":3074},{"d":16.19,"v":3115},{"d":16.25,"v":2923},{"d":16.42,"v":2923},{"d":16.62,"v":2937},{"d":16.75,"v":2937},{"d":16.88,"v":2828},{"d":17.02,"v":2773},{"d":17.15,"v":2718},{"d":17.28,"v":2691},{"d":17.41,"v":2746},{"d":17.55,"v":2828},{"d":17.61,"v":2882},{"d":17.71,"v":2896},{"d":17.78,"v":2746},{"d":17.84,"v":2363},{"d":17.88,"v":2281},{"d":17.94,"v":2445},{"d":18.08,"v":2473},{"d":18.28,"v":2391},{"d":18.45,"v":2418},{"d":18.61,"v":2445},{"d":18.74,"v":2664},{"d":18.87,"v":2636},{"d":19.07,"v":2609},{"d":19.27,"v":2636},{"d":19.47,"v":2664},{"d":19.57,"v":2800},{"d":19.73,"v":2841},{"d":19.86,"v":2896},{"d":20,"v":2828}],
 "ry": [{"d":0,"v":1871},{"d":0.04,"v":1953},{"d":0.08,"v":1940},{"d":0.21,"v":1967},{"d":0.34,"v":2008},{"d":0.47,"v":2049},{"d":0.59,"v":2145},{"d":0.63,"v":2063},{"d":0.73,"v":2022},{"d":0.83,"v":1926},{"d":0.93,"v":1994},{"d":1.06,"v":2049},{"d":1.2,"v":2036},{"d":1.22,"v":1830},{"d":1.25,"v":2063},{"d":1.38,"v":2049},{"d":1.48,"v":2008},{"d":1.52,"v":1981},{"d":1.58,"v":533},{"d":1.64,"v":519},{"d":1.77,"v":560},{"d":1.9,"v":533},{"d":1.97,"v":519},{"d":2.03,"v":601},{"d":2.16,"v":628},{"d":2.42,"v":656},{"d":2.68,"v":710},{"d":2.88,"v":751},{"d":3.07,"v":792},{"d":3.2,"v":806},{"d":3.34,"v":861},{"d":3.6,"v":929},{"d":3.73,"v":943},{"d":3.86,"v":1025},{"d":3.99,"v":1066},{"d":4.25,"v":1093},{"d":4.51,"v":1134},{"d":4.77,"v":1189},{"d":4.9,"v":1189},{"d":4.96,"v":1134},{"d":5.03,"v":1189},{"d":5.09,"v":1270},{"d":5.36,"v":1311},{"d":5.68,"v":1352},{"d":5.94,"v":1407},{"d":6.2,"v":1462},{"d":6.46,"v":1516},{"d":6.66,"v":1571},{"d":6.79,"v":1612},{"d":6.82,"v":1544},{"d":6.85,"v":1653},{"d":6.98,"v":1680},{"d":7.24,"v":1680},{"d":7.5,"v":1708},{"d":7.76,"v":1694},{"d":7.96,"v":1653},{"d":8.03,"v":1762},{"d":8.09,"v":1817},{"d":8.29,"v":1817},{"d":8.42,"v":1790},{"d":8.61,"v":1844},{"d":8.81,"v":1858},{"d":8.94,"v":1926},{"d":9.07,"v":1981},{"d":9.33,"v":2022},{"d":9.46,"v":2008},{"d":9.59,"v":2049},{"d":9.72,"v":2063},{"d":9.85,"v":2090},{"d":10.0,"v":2077},{"d":10.25,"v":2118},{"d":10.52,"v":2145},{"d":10.75,"v":2227},{"d":10.82,"v":2049},{"d":10.92,"v":2158},{"d":11.18,"v":2199},{"d":11.45,"v":2281},{"d":11.71,"v":2309},{"d":11.98,"v":2336},{"d":12.08,"v":2363},{"d":12.14,"v":2227},{"d":12.24,"v":2281},{"d":12.34,"v":2418},{"d":12.44,"v":2363},{"d":12.64,"v":2391},{"d":12.84,"v":2445},{"d":13.04,"v":2500},{"d":13.3,"v":2555},{"d":13.57,"v":2609},{"d":13.83,"v":2636},{"d":14.1,"v":2691},{"d":14.36,"v":2746},{"d":14.63,"v":2773},{"d":14.89,"v":2814},{"d":14.99,"v":2746},{"d":15.09,"v":2828},{"d":15.36,"v":2896},{"d":15.62,"v":2937},{"d":15.82,"v":2923},{"d":16.09,"v":2964},{"d":16.22,"v":2992},{"d":16.27,"v":2773},{"d":16.42,"v":2828},{"d":16.62,"v":2800},{"d":16.82,"v":2773},{"d":16.95,"v":2718},{"d":17.08,"v":2691},{"d":17.22,"v":2664},{"d":17.35,"v":2718},{"d":17.48,"v":2773},{"d":17.61,"v":2800},{"d":17.74,"v":2773},{"d":17.8,"v":2527},{"d":17.84,"v":2199},{"d":17.91,"v":2336},{"d":18.08,"v":2309},{"d":18.21,"v":2336},{"d":18.34,"v":2281},{"d":18.47,"v":2363},{"d":18.61,"v":2445},{"d":18.74,"v":2500},{"d":18.87,"v":2527},{"d":19.07,"v":2555},{"d":19.27,"v":2609},{"d":19.47,"v":2636},{"d":19.67,"v":2691},{"d":19.8,"v":2705},{"d":19.93,"v":2609},{"d":20,"v":2664}],
 "rf": [{"d":0,"v":0.94},{"d":0.03,"v":0.977},{"d":0.1,"v":0.99},{"d":0.15,"v":0.97},{"d":0.2,"v":0.986},{"d":0.3,"v":0.98},{"d":0.35,"v":0.99},{"d":0.46,"v":0.98},{"d":0.5,"v":0.97},{"d":0.55,"v":0.955},{"d":0.6,"v":0.93},{"d":0.65,"v":0.94},{"d":0.72,"v":0.923},{"d":0.76,"v":0.9},{"d":0.8,"v":0.89},{"d":0.82,"v":0.873},{"d":0.86,"v":0.9},{"d":0.9,"v":0.89},{"d":0.95,"v":0.905},{"d":1.0,"v":0.9},{"d":1.05,"v":0.92},{"d":1.11,"v":0.914},{"d":1.15,"v":0.9},{"d":1.2,"v":0.91},{"d":1.24,"v":0.895},{"d":1.3,"v":0.95},{"d":1.35,"v":0.977},{"d":1.38,"v":0.96},{"d":1.42,"v":0.94},{"d":1.46,"v":0.9},{"d":1.5,"v":0.86},{"d":1.53,"v":0.83},{"d":1.56,"v":0.87},{"d":1.6,"v":0.777},{"d":1.63,"v":0.84},{"d":1.66,"v":0.8},{"d":1.7,"v":0.85},{"d":1.73,"v":0.83},{"d":1.75,"v":0.82},{"d":1.79,"v":0.85},{"d":1.83,"v":0.823},{"d":1.86,"v":0.84},{"d":1.9,"v":0.805},{"d":1.95,"v":0.86},{"d":2.0,"v":0.88},{"d":2.03,"v":0.895},{"d":2.08,"v":0.88},{"d":2.12,"v":0.9},{"d":2.15,"v":0.88},{"d":2.22,"v":0.886},{"d":2.3,"v":0.9},{"d":2.35,"v":0.868},{"d":2.4,"v":0.9},{"d":2.42,"v":0.995},{"d":2.46,"v":0.93},{"d":2.5,"v":0.905},{"d":2.55,"v":0.88},{"d":2.6,"v":0.89},{"d":2.68,"v":0.868},{"d":2.72,"v":0.9},{"d":2.76,"v":0.88},{"d":2.8,"v":0.923},{"d":2.9,"v":0.9},{"d":2.94,"v":0.995},{"d":2.97,"v":0.95},{"d":3.0,"v":0.914},{"d":3.05,"v":0.93},{"d":3.1,"v":0.89},{"d":3.14,"v":0.877},{"d":3.2,"v":0.92},{"d":3.23,"v":0.995},{"d":3.27,"v":0.93},{"d":3.33,"v":0.914},{"d":3.4,"v":0.92},{"d":3.47,"v":0.9},{"d":3.53,"v":0.932},{"d":3.57,"v":0.96},{"d":3.6,"v":0.995},{"d":3.64,"v":0.93},{"d":3.68,"v":0.92},{"d":3.73,"v":0.905},{"d":3.77,"v":0.95},{"d":3.8,"v":0.99},{"d":3.86,"v":0.98},{"d":3.92,"v":0.99},{"d":4.0,"v":0.98},{"d":4.1,"v":0.99},{"d":4.2,"v":0.98},{"d":4.25,"v":0.986},{"d":4.35,"v":0.975},{"d":4.45,"v":0.985},{"d":4.5,"v":0.975},{"d":4.6,"v":0.985},{"d":4.7,"v":0.975},{"d":4.77,"v":0.98},{"d":4.85,"v":0.96},{"d":4.9,"v":0.94},{"d":4.93,"v":0.923},{"d":4.97,"v":0.95},{"d":5.03,"v":0.99},{"d":5.1,"v":0.985},{"d":5.2,"v":0.975},{"d":5.3,"v":0.975},{"d":5.4,"v":0.97},{"d":5.5,"v":0.96},{"d":5.56,"v":0.96},{"d":5.65,"v":0.975},{"d":5.8,"v":0.97},{"d":5.9,"v":0.985},{"d":6.0,"v":0.97},{"d":6.08,"v":0.977},{"d":6.2,"v":0.985},{"d":6.3,"v":0.97},{"d":6.4,"v":0.97},{"d":6.5,"v":0.98},{"d":6.6,"v":0.975},{"d":6.7,"v":0.985},{"d":6.8,"v":0.97},{"d":6.86,"v":0.968},{"d":6.93,"v":0.927},{"d":6.98,"v":0.97},{"d":7.05,"v":0.99},{"d":7.12,"v":0.99},{"d":7.2,"v":0.975},{"d":7.3,"v":0.985},{"d":7.4,"v":0.975},{"d":7.45,"v":0.96},{"d":7.5,"v":0.98},{"d":7.55,"v":0.95},{"d":7.6,"v":0.975},{"d":7.65,"v":0.968},{"d":7.7,"v":0.94},{"d":7.75,"v":0.97},{"d":7.8,"v":0.95},{"d":7.85,"v":0.95},{"d":7.9,"v":0.97},{"d":7.97,"v":0.923},{"d":8.02,"v":0.97},{"d":8.05,"v":0.99},{"d":8.1,"v":0.986},{"d":8.15,"v":0.94},{"d":8.2,"v":0.97},{"d":8.25,"v":0.95},{"d":8.3,"v":0.93},{"d":8.35,"v":0.96},{"d":8.4,"v":0.94},{"d":8.43,"v":0.932},{"d":8.48,"v":0.96},{"d":8.52,"v":0.94},{"d":8.55,"v":0.96},{"d":8.6,"v":0.93},{"d":8.65,"v":0.97},{"d":8.69,"v":0.959},{"d":8.74,"v":0.94},{"d":8.8,"v":0.935},{"d":8.85,"v":0.96},{"d":8.9,"v":0.95},{"d":8.95,"v":0.986},{"d":9.05,"v":0.99},{"d":9.15,"v":0.98},{"d":9.22,"v":0.995},{"d":9.35,"v":0.985},{"d":9.5,"v":0.99},{"d":9.6,"v":0.98},{"d":9.74,"v":0.986},{"d":9.85,"v":0.975},{"d":10.0,"v":0.98},{"d":10.1,"v":0.99},{"d":10.26,"v":0.977},{"d":10.4,"v":0.985},{"d":10.55,"v":0.975},{"d":10.65,"v":0.98},{"d":10.8,"v":0.97},{"d":10.85,"v":0.909},{"d":10.9,"v":0.93},{"d":10.95,"v":0.94},{"d":11.05,"v":0.95},{"d":11.1,"v":0.96},{"d":11.2,"v":0.98},{"d":11.31,"v":0.986},{"d":11.4,"v":0.975},{"d":11.5,"v":0.98},{"d":11.57,"v":0.973},{"d":11.65,"v":0.985},{"d":11.7,"v":0.965},{"d":11.8,"v":0.97},{"d":11.9,"v":0.96},{"d":12.0,"v":0.97},{"d":12.09,"v":0.959},{"d":12.2,"v":0.975},{"d":12.3,"v":0.97},{"d":12.4,"v":0.98},{"d":12.48,"v":0.99},{"d":12.55,"v":0.97},{"d":12.6,"v":0.97},{"d":12.7,"v":0.96},{"d":12.75,"v":0.959},{"d":12.85,"v":0.975},{"d":13.0,"v":0.995},{"d":13.1,"v":0.985},{"d":13.25,"v":0.98},{"d":13.4,"v":0.99},{"d":13.53,"v":0.986},{"d":13.65,"v":0.975},{"d":13.8,"v":0.98},{"d":13.9,"v":0.99},{"d":14.05,"v":0.977},{"d":14.2,"v":0.99},{"d":14.4,"v":0.985},{"d":14.55,"v":0.975},{"d":14.71,"v":0.99},{"d":14.9,"v":0.975},{"d":15.0,"v":0.955},{"d":15.1,"v":0.985},{"d":15.23,"v":0.99},{"d":15.4,"v":0.98},{"d":15.5,"v":0.985},{"d":15.7,"v":0.99},{"d":15.88,"v":0.986},{"d":16.0,"v":0.975},{"d":16.1,"v":0.98},{"d":16.25,"v":0.99},{"d":16.4,"v":0.986},{"d":16.5,"v":0.97},{"d":16.6,"v":0.975},{"d":16.7,"v":0.985},{"d":16.8,"v":0.977},{"d":16.9,"v":0.965},{"d":17.0,"v":0.96},{"d":17.1,"v":0.955},{"d":17.19,"v":0.95},{"d":17.3,"v":0.945},{"d":17.45,"v":0.941},{"d":17.52,"v":0.955},{"d":17.6,"v":0.96},{"d":17.65,"v":0.975},{"d":17.71,"v":0.968},{"d":17.76,"v":0.95},{"d":17.8,"v":0.94},{"d":17.84,"v":0.918},{"d":17.88,"v":0.96},{"d":17.93,"v":0.97},{"d":18.0,"v":0.985},{"d":18.04,"v":0.986},{"d":18.1,"v":0.97},{"d":18.2,"v":0.96},{"d":18.3,"v":0.97},{"d":18.37,"v":0.95},{"d":18.45,"v":0.965},{"d":18.55,"v":0.975},{"d":18.63,"v":0.968},{"d":18.7,"v":0.98},{"d":18.8,"v":0.975},{"d":18.9,"v":0.985},{"d":19.0,"v":0.995},{"d":19.1,"v":0.975},{"d":19.2,"v":0.965},{"d":19.25,"v":0.959},{"d":19.3,"v":0.975},{"d":19.4,"v":0.985},{"d":19.5,"v":0.99},{"d":19.55,"v":0.97},{"d":19.6,"v":0.965},{"d":19.65,"v":0.985},{"d":19.7,"v":0.97},{"d":19.76,"v":0.995},{"d":19.82,"v":0.975},{"d":19.9,"v":0.98},{"d":19.95,"v":0.995},{"d":20,"v":0.973}]
},
"columns": 8,
"bounds": "flush",
"spacing": 0,
"align": "each",
"resolve": {"scale": {"x": "independent", "y": "independent", "color": "independent"}, "legend": {"color": "independent"}},
"concat": [
 {"width": 28, "height": 33, "data": {"values": []}, "mark": "point", "view": {"fill": "#d3d3d3", "stroke": null}},
 {"width": 169, "height": 33, "data": {"values": []}, "mark": "point", "view": {"fill": "#d3d3d3", "stroke": null}},
 {"width": 1037, "height": 33, "data": {"values": []}, "mark": "point", "view": {"fill": "#d3d3d3", "stroke": null}},
 {"width": 133, "height": 33, "data": {"values": []}, "mark": "point", "view": {"fill": "#d3d3d3", "stroke": null}},
 {"width": 199, "height": 33, "data": {"values": []}, "mark": "point", "view": {"fill": "#d3d3d3", "stroke": null}},
 {"width": 169, "height": 33, "data": {"values": []}, "mark": "point", "view": {"fill": "#d3d3d3", "stroke": null}},
 {"width": 1037, "height": 33, "data": {"values": []}, "mark": "point", "view": {"fill": "#d3d3d3", "stroke": null}},
 {"width": 125, "height": 33, "data": {"values": []}, "mark": "point", "view": {"fill": "#d3d3d3", "stroke": null}},

 {"width": 28, "height": 101, "data": {"values": []}, "mark": "point", "view": {"fill": "#d3d3d3", "stroke": null}},
 {"width": 169, "height": 101, "data": {"values": []}, "mark": "point"},
 {"width": 1037, "height": 101, "data": {"values": []}, "mark": "point"},
 {"width": 133, "height": 101, "data": {"values": []}, "mark": "point"},
 {"width": 199, "height": 101, "data": {"values": []}, "mark": "point", "view": {"fill": "#d3d3d3", "stroke": null}},
 {"width": 169, "height": 101, "data": {"values": []}, "mark": "point"},
 {"width": 1037, "height": 101, "data": {"values": []}, "mark": "point"},
 {"width": 125, "height": 101, "data": {"values": []}, "mark": "point"},

 {"width": 28, "height": 368, "data": {"values": []}, "mark": "point", "view": {"fill": "#d3d3d3", "stroke": null}},
 {"width": 169, "height": 368, "data": {"values": []}, "mark": "point"},
 {"width": 1037, "height": 368, "view": {"stroke": "black", "strokeWidth": 1.5},
  "title": "avg: mc = 335.18; used = 426.51;\u00a0 empty = 65.18",
  "resolve": {"axis": {"x": "independent", "y": "independent"}},
  "layer": [
   {"data": {"name": "lr"}, "mark": {"type": "line", "clip": true, "strokeWidth": 2},
    "encoding": {
     "x": {"field": "d", "type": "quantitative", "scale": {"domain": [0, 20], "nice": false}, "axis": {"values": [0,1,2,3,4,5,6,7,8,9,10,11,12,13,14,15,16,17,18,19,20], "title": null}},
     "y": {"field": "v", "type": "quantitative", "scale": {"domain": [0, 1200], "nice": false}, "axis": {"values": [0,200,400,600,800,1000,1200], "format": "d", "title": "slots"}},
     "color": {"datum": "dedicated slots", "type": "nominal", "scale": {"domain": ["dedicated slots", "used slots", "mcore"], "range": ["#ff0000", "#008000", "#bfbf00"]}, "legend": {"orient": "top-left", "offset": 17}}}},
   {"data": {"name": "lg"}, "mark": {"type": "line", "clip": true, "strokeWidth": 2},
    "encoding": {
     "x": {"field": "d", "type": "quantitative", "scale": {"domain": [0, 20], "nice": false}, "axis": null},
     "y": {"field": "v", "type": "quantitative", "scale": {"domain": [0, 1200], "nice": false}, "axis": null},
     "color": {"datum": "used slots", "type": "nominal"}}},
   {"data": {"name": "ly"}, "mark": {"type": "line", "clip": true, "strokeWidth": 2},
    "encoding": {
     "x": {"field": "d", "type": "quantitative", "scale": {"domain": [0, 20], "nice": false}, "axis": {"orient": "top", "values": [0,1,2,3,4,5,6,7,8,9,10,11,12,13,14,15,16,17,18,19,20], "labels": false, "grid": false, "title": null}},
     "y": {"field": "v", "type": "quantitative", "scale": {"domain": [0, 1200], "nice": false}, "axis": {"orient": "right", "values": [0,200,400,600,800,1000,1200], "labels": false, "grid": false, "title": null}},
     "color": {"datum": "mcore", "type": "nominal"}}}
  ]
 },
 {"width": 133, "height": 368, "data": {"values": []}, "mark": "point"},
 {"width": 199, "height": 368, "data": {"values": []}, "mark": "point", "view": {"fill": "#d3d3d3", "stroke": null}},
 {"width": 169, "height": 368, "data": {"values": []}, "mark": "point"},
 {"width": 1037, "height": 368, "view": {"stroke": "black", "strokeWidth": 1.5},
  "title": "avg: mc = 1995.57; used = 2108.30;\u00a0 empty = 67.36",
  "resolve": {"axis": {"x": "independent", "y": "independent"}},
  "layer": [
   {"data": {"name": "rr"}, "mark": {"type": "line", "clip": true, "strokeWidth": 2},
    "encoding": {
     "x": {"field": "d", "type": "quantitative", "scale": {"domain": [0, 20], "nice": false}, "axis": {"values": [0,1,2,3,4,5,6,7,8,9,10,11,12,13,14,15,16,17,18,19,20], "title": null}},
     "y": {"field": "v", "type": "quantitative", "scale": {"domain": [500, 3500], "nice": false, "zero": false}, "axis": {"values": [500,1000,1500,2000,2500,3000,3500], "format": "d", "title": "slots"}},
     "color": {"datum": "dedicated slots", "type": "nominal", "scale": {"domain": ["dedicated slots", "used slots", "mcore"], "range": ["#ff0000", "#008000", "#bfbf00"]}, "legend": {"orient": "bottom-right", "offset": 15}}}},
   {"data": {"name": "rg"}, "mark": {"type": "line", "clip": true, "strokeWidth": 2},
    "encoding": {
     "x": {"field": "d", "type": "quantitative", "scale": {"domain": [0, 20], "nice": false}, "axis": null},
     "y": {"field": "v", "type": "quantitative", "scale": {"domain": [500, 3500], "nice": false, "zero": false}, "axis": null},
     "color": {"datum": "used slots", "type": "nominal"}}},
   {"data": {"name": "ry"}, "mark": {"type": "line", "clip": true, "strokeWidth": 2},
    "encoding": {
     "x": {"field": "d", "type": "quantitative", "scale": {"domain": [0, 20], "nice": false}, "axis": {"orient": "top", "values": [0,1,2,3,4,5,6,7,8,9,10,11,12,13,14,15,16,17,18,19,20], "labels": false, "grid": false, "title": null}},
     "y": {"field": "v", "type": "quantitative", "scale": {"domain": [500, 3500], "nice": false, "zero": false}, "axis": {"orient": "right", "values": [500,1000,1500,2000,2500,3000,3500], "labels": false, "grid": false, "title": null}},
     "color": {"datum": "mcore", "type": "nominal"}}}
  ]
 },
 {"width": 125, "height": 368, "data": {"values": []}, "mark": "point"},

 {"width": 28, "height": 70, "data": {"values": []}, "mark": "point", "view": {"fill": "#d3d3d3", "stroke": null}},
 {"width": 169, "height": 70, "data": {"values": []}, "mark": "point"},
 {"width": 1037, "height": 70, "data": {"values": []}, "mark": "point"},
 {"width": 133, "height": 70, "data": {"values": []}, "mark": "point"},
 {"width": 199, "height": 70, "data": {"values": []}, "mark": "point", "view": {"fill": "#d3d3d3", "stroke": null}},
 {"width": 169, "height": 70, "data": {"values": []}, "mark": "point"},
 {"width": 1037, "height": 70, "data": {"values": []}, "mark": "point"},
 {"width": 125, "height": 70, "data": {"values": []}, "mark": "point"},

 {"width": 28, "height": 370, "data": {"values": []}, "mark": "point", "view": {"fill": "#d3d3d3", "stroke": null}},
 {"width": 169, "height": 370, "data": {"values": []}, "mark": "point"},
 {"width": 1037, "height": 370, "view": {"stroke": "black", "strokeWidth": 1.5},
  "title": {"text": "Fill Factor; avg = 0.84", "offset": -12},
  "data": {"name": "lf"},
  "resolve": {"axis": {"x": "independent", "y": "independent"}},
  "layer": [
   {"mark": {"type": "line", "clip": true, "strokeWidth": 2},
    "encoding": {
     "x": {"field": "d", "type": "quantitative", "scale": {"domain": [0, 20], "nice": false}, "axis": {"values": [0,1,2,3,4,5,6,7,8,9,10,11,12,13,14,15,16,17,18,19,20], "title": "Days, 2014-08-19:20:36 to 2014-09-09:18:30"}},
     "y": {"field": "v", "type": "quantitative", "scale": {"domain": [0, 1], "nice": false}, "axis": {"values": [0,0.2,0.4,0.6,0.8,1.0], "format": ".1f", "title": null}},
     "color": {"datum": "fill factor", "type": "nominal", "scale": {"domain": ["fill factor"], "range": ["#008000"]}, "legend": {"orient": "bottom-left", "offset": 18}}}},
   {"mark": {"type": "line", "clip": true, "strokeWidth": 2, "opacity": 0},
    "encoding": {
     "x": {"field": "d", "type": "quantitative", "scale": {"domain": [0, 20], "nice": false}, "axis": {"orient": "top", "values": [0,1,2,3,4,5,6,7,8,9,10,11,12,13,14,15,16,17,18,19,20], "labels": false, "grid": false, "title": null}},
     "y": {"field": "v", "type": "quantitative", "scale": {"domain": [0, 1], "nice": false}, "axis": {"orient": "right", "values": [0,0.2,0.4,0.6,0.8,1.0], "labels": false, "grid": false, "title": null}}}}
  ]
 },
 {"width": 133, "height": 370, "data": {"values": []}, "mark": "point"},
 {"width": 199, "height": 370, "data": {"values": []}, "mark": "point", "view": {"fill": "#d3d3d3", "stroke": null}},
 {"width": 169, "height": 370, "data": {"values": []}, "mark": "point"},
 {"width": 1037, "height": 370, "view": {"stroke": "black", "strokeWidth": 1.5},
  "title": {"text": "Fill Factor; avg = 0.96", "offset": -12},
  "data": {"name": "rf"},
  "resolve": {"axis": {"x": "independent", "y": "independent"}},
  "layer": [
   {"mark": {"type": "line", "clip": true, "strokeWidth": 2},
    "encoding": {
     "x": {"field": "d", "type": "quantitative", "scale": {"domain": [0, 20], "nice": false}, "axis": {"values": [0,1,2,3,4,5,6,7,8,9,10,11,12,13,14,15,16,17,18,19,20], "title": "Days, 2015-03-19:07:24 to 2015-04-08:07:18"}},
     "y": {"field": "v", "type": "quantitative", "scale": {"domain": [0, 1], "nice": false}, "axis": {"values": [0,0.2,0.4,0.6,0.8,1.0], "format": ".1f", "title": null}},
     "color": {"datum": "fill factor", "type": "nominal", "scale": {"domain": ["fill factor"], "range": ["#008000"]}, "legend": {"orient": "bottom-left", "offset": 18}}}},
   {"mark": {"type": "line", "clip": true, "strokeWidth": 2, "opacity": 0},
    "encoding": {
     "x": {"field": "d", "type": "quantitative", "scale": {"domain": [0, 20], "nice": false}, "axis": {"orient": "top", "values": [0,1,2,3,4,5,6,7,8,9,10,11,12,13,14,15,16,17,18,19,20], "labels": false, "grid": false, "title": null}},
     "y": {"field": "v", "type": "quantitative", "scale": {"domain": [0, 1], "nice": false}, "axis": {"orient": "right", "values": [0,0.2,0.4,0.6,0.8,1.0], "labels": false, "grid": false, "title": null}}}}
  ]
 },
 {"width": 125, "height": 370, "data": {"values": []}, "mark": "point"},

 {"width": 28, "height": 82, "data": {"values": []}, "mark": "point", "view": {"fill": "#d3d3d3", "stroke": null}},
 {"width": 169, "height": 82, "data": {"values": []}, "mark": "point"},
 {"width": 1037, "height": 82, "data": {"values": []}, "mark": "point"},
 {"width": 133, "height": 82, "data": {"values": []}, "mark": "point"},
 {"width": 199, "height": 82, "data": {"values": []}, "mark": "point", "view": {"fill": "#d3d3d3", "stroke": null}},
 {"width": 169, "height": 82, "data": {"values": []}, "mark": "point"},
 {"width": 1037, "height": 82, "data": {"values": []}, "mark": "point"},
 {"width": 125, "height": 82, "data": {"values": []}, "mark": "point"}
]
}
